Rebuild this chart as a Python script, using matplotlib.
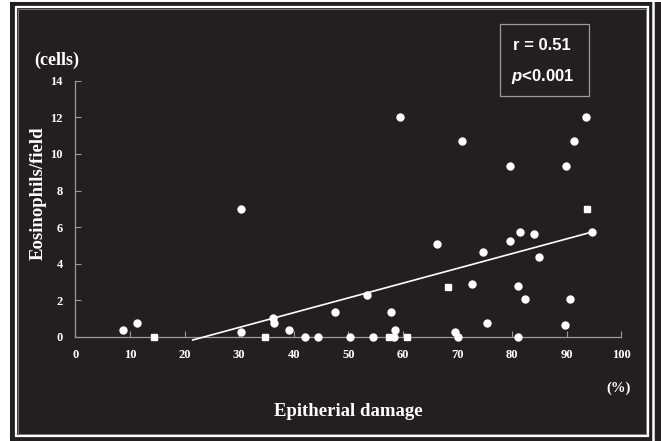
import matplotlib
matplotlib.use('Agg')
import matplotlib.pyplot as plt
from matplotlib.patches import Rectangle
from matplotlib.lines import Line2D
import numpy as np

# data
circle_x = [8.7, 11.3, 30.4, 30.4, 36.2, 36.4, 39.2, 42.1, 44.5, 47.6, 50.3, 53.4,
            54.6, 57.9, 58.5, 58.3, 59.4, 66.3, 69.5, 70.1, 70.9, 72.6, 74.6, 75.4,
            79.7, 79.7, 81.0, 81.0, 81.5, 82.3, 84.1, 85.0, 89.7, 89.8, 90.6, 91.3,
            93.6, 94.6]
circle_y = [0.39, 0.74, 7.0, 0.25, 1.05, 0.74, 0.38, 0.0, 0.0, 1.34, 0.0, 2.27,
            0.0, 1.38, 0.38, 0.0, 12.0, 5.06, 0.28, 0.0, 10.7, 2.87, 4.64, 0.76,
            9.36, 5.24, 2.76, 0.0, 5.73, 2.07, 5.64, 4.37, 0.65, 9.36, 2.07, 10.7,
            12.0, 5.73]
square_x = [14.5, 34.8, 57.5, 60.8, 68.3, 93.8]
square_y = [0.0, 0.0, 0.0, 0.0, 2.7, 7.0]

fit_slope = 0.0807
fit_intercept = -1.905
fit_range = [21.5, 94.6]

x_ticks = [0, 10, 20, 30, 40, 50, 60, 70, 80, 90, 100]
y_ticks = [0, 2, 4, 6, 8, 10, 12, 14]

bg = '#231f20'
W, H = 661, 441
plt.rcParams['mathtext.fontset'] = 'custom'
plt.rcParams['mathtext.it'] = 'Liberation Sans:italic:bold'

fig = plt.figure(figsize=(W / 100, H / 100), dpi=100, facecolor='white')

def px(x0, y0, x1, y1):
    # pixel box -> figure fraction (left, bottom, width, height)
    return x0 / W, 1 - y1 / H, (x1 - x0) / W, (y1 - y0) / H

l, b, w, h = px(10, 2, W, H)
fig.patches.append(Rectangle((l, b), w, h, transform=fig.transFigure,
                             facecolor=bg, edgecolor='none', zorder=0))
l, b, w, h = px(16, 7, 648, 435.5)
fig.patches.append(Rectangle((l, b), w, h, transform=fig.transFigure,
                             facecolor='none', edgecolor='white', lw=1.6, zorder=1))
l, b, w, h = px(18, 9, 646, 433.5)
fig.patches.append(Rectangle((l, b), w, h, transform=fig.transFigure,
                             facecolor='none', edgecolor='#8a8a8a', lw=0.6, zorder=1))
fig.lines.append(Line2D([652.5 / W, 652.5 / W], [0, 1 - 2 / H], transform=fig.transFigure,
                        color='white', lw=1.8))

ax = fig.add_axes(px(75.3, 80.7, 621.3, 336.9))
ax.set_zorder(5)
ax.set_facecolor('none')
ax.set_xlim(0, 100)
ax.set_ylim(0, 14)
for s in ['top', 'right']:
    ax.spines[s].set_visible(False)
for s in ['left', 'bottom']:
    ax.spines[s].set_color('#9a9a9a')
    ax.spines[s].set_linewidth(0.9)

ax.set_xticks(x_ticks)
ax.set_yticks(y_ticks)
ax.tick_params(direction='in', length=4, width=0.8, color='#9a9a9a',
               labelcolor='white')
ax.tick_params(axis='x', pad=9)
ax.tick_params(axis='y', pad=9)
for lab in ax.get_xticklabels() + ax.get_yticklabels():
    lab.set_fontfamily('Liberation Serif')
    lab.set_fontweight('bold')
    lab.set_fontsize(9)

xl = np.array(fit_range)
ax.plot(xl, fit_slope * xl + fit_intercept, color='white', lw=1.2, clip_on=False, zorder=3)
ax.plot(circle_x, circle_y, 'o', color='white', ms=5.0, mec='white', clip_on=False, zorder=4)
ax.plot(square_x, square_y, 's', color='white', ms=4, mec='white', clip_on=False, zorder=4)

serif = dict(family='Liberation Serif', weight='bold', color='white')
fig.text(57 / W, 1 - 60 / H, '(cells)', ha='center', va='center', fontsize=13, **serif)
fig.text(38 / W, 1 - 193 / H, 'Eosinophils/field', ha='center', va='center',
         rotation=90, fontsize=13.5, **serif)
fig.text(348 / W, 1 - 411 / H, 'Epitherial damage', ha='center', va='center',
         fontsize=13.5, **serif)
fig.text(619 / W, 1 - 388 / H, '(%)', ha='center', va='center', fontsize=10.5, **serif)

l, b, w, h = px(500, 24, 589, 96)
fig.patches.append(Rectangle((l, b), w, h, transform=fig.transFigure,
                             facecolor='none', edgecolor='#9a9a9a', lw=0.9, zorder=2))
sans = dict(family='Liberation Sans', weight='bold', color='white')
fig.text(542 / W, 1 - 45 / H, 'r = 0.51', ha='center', va='center', fontsize=12, **sans)
fig.text(543 / W, 1 - 77 / H, '$p$<0.001', ha='center', va='center', fontsize=12, **sans)

fig.savefig('out.png', dpi=100, facecolor='white')
